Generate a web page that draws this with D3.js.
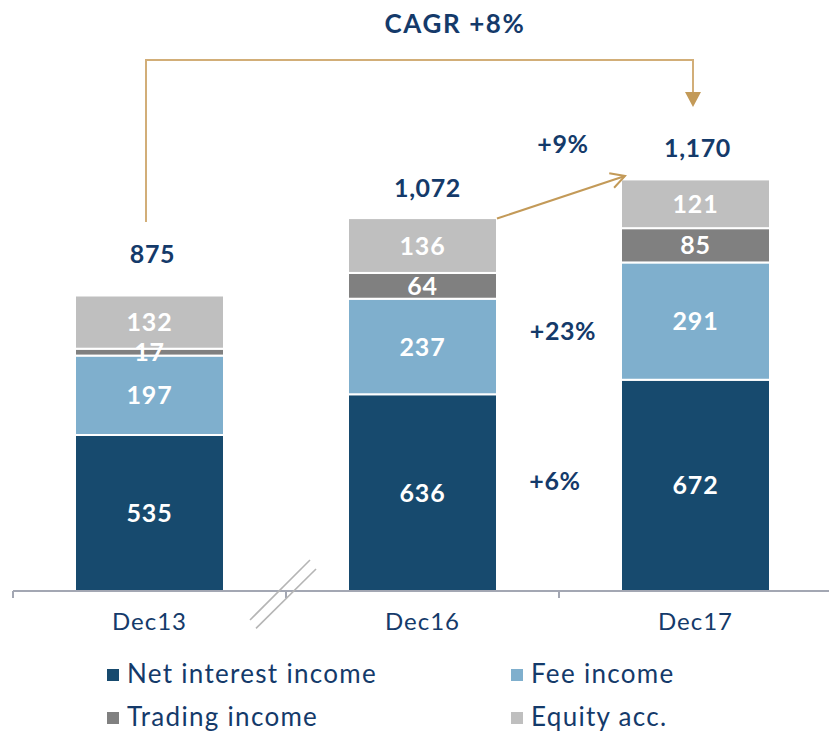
<!DOCTYPE html>
<html>
<head>
<meta charset="utf-8">
<script src="https://cdn.jsdelivr.net/npm/d3@7"></script>
<style>
  body { margin: 0; background: #fff; }
  svg { font-family: Lato, "Open Sans", sans-serif; }
</style>
</head>
<body>
<svg id="chart" width="829" height="731"></svg>
<script>
const categories = ["Dec13", "Dec16", "Dec17"];
const series = ["Net interest income", "Fee income", "Trading income", "Equity acc."];
const netInterest = [535, 636, 672];
const feeIncome = [197, 237, 291];
const tradingIncome = [17, 64, 85];
const equityAcc = [132, 136, 121];
const totals = [875, 1072, 1170];
const growthLabels = ["+9%", "+23%", "+6%"];
const cagrLabel = "CAGR +8%";

const colors = ["#174a6e", "#7fafcd", "#808080", "#bfbfbf"];
const textColor = "#143a6a";
const gold = "#c39a58";

const svg = d3.select("#chart");

const rows = categories.map((c, i) => ({
  cat: c,
  "Net interest income": netInterest[i],
  "Fee income": feeIncome[i],
  "Trading income": tradingIncome[i],
  "Equity acc.": equityAcc[i],
  total: totals[i]
}));

// Escalas (eje Y truncado, no empieza en cero)
const x = d3.scaleBand().domain(categories).range([13, 832]).padding(0);
const y = d3.scaleLinear().domain([148, 1170]).range([591, 179]);
const barW = 149;
const barX = (c) => x(c) + (x.bandwidth() - barW) / 2;

const stacked = d3.stack().keys(series)(rows);
// la primera capa arranca en la base truncada
stacked[0].forEach((d) => (d[0] = y.domain()[0]));

// Barras
const layers = svg.selectAll(".layer")
  .data(stacked)
  .enter()
  .append("g")
  .attr("class", "layer")
  .attr("fill", (d, i) => colors[i]);

layers.selectAll("rect")
  .data((d) => d)
  .enter()
  .append("rect")
  .attr("x", (d) => barX(d.data.cat))
  .attr("y", (d) => y(d[1]))
  .attr("width", barW)
  .attr("height", (d) => y(d[0]) - y(d[1]))
  .attr("stroke", "#fff")
  .attr("stroke-width", 2);

// Etiquetas dentro de los segmentos
stacked.forEach((layer) => {
  svg.append("g")
    .selectAll("text")
    .data(layer)
    .enter()
    .append("text")
    .attr("x", (d) => barX(d.data.cat) + barW / 2)
    .attr("y", (d) => (y(d[0]) + y(d[1])) / 2)
    .attr("dy", "0.36em")
    .attr("text-anchor", "middle")
    .attr("fill", "#fff")
    .attr("font-weight", "bold")
    .attr("font-size", 25)
    .attr("letter-spacing", 0.8)
    .text((d) => d.data[layer.key]);
});

// Totales
const totalGap = [35, 22, 22];
const totalShift = [3, 5, 2];
svg.append("g")
  .selectAll("text")
  .data(rows)
  .enter()
  .append("text")
  .attr("x", (d, i) => barX(d.cat) + barW / 2 + totalShift[i])
  .attr("y", (d, i) => y(d.total) - totalGap[i])
  .attr("text-anchor", "middle")
  .attr("fill", textColor)
  .attr("font-weight", "bold")
  .attr("font-size", 25)
  .attr("letter-spacing", 0.6)
  .text((d) => d3.format(",")(d.total));

// Eje X
const axisY = 591;
const axis = svg.append("g").attr("transform", `translate(0,${axisY})`);
axis.append("line")
  .attr("x1", x.range()[0]).attr("x2", x.range()[1])
  .attr("stroke", "#a3a7b3").attr("stroke-width", 2);
axis.selectAll(".tick")
  .data(categories)
  .enter()
  .append("line")
  .attr("x1", (d) => x(d)).attr("x2", (d) => x(d))
  .attr("y1", 0).attr("y2", 7)
  .attr("stroke", "#a3a7b3").attr("stroke-width", 2);
axis.selectAll(".label")
  .data(categories)
  .enter()
  .append("text")
  .attr("x", (d) => x(d) + x.bandwidth() / 2)
  .attr("y", 39)
  .attr("text-anchor", "middle")
  .attr("fill", textColor)
  .attr("font-size", 24)
  .attr("letter-spacing", 1)
  .text((d) => d);

// Marca de corte
const bx = x("Dec16") - 36;
[0, 6].forEach((o) => {
  svg.append("line")
    .attr("x1", bx + 60 + o).attr("y1", 560 + o * 1.5)
    .attr("x2", bx + o).attr("y2", 620 + o * 1.4)
    .attr("stroke", "#b5b5b5").attr("stroke-width", 1.6);
});

// Flecha CAGR
const xa = barX("Dec13") + 71;
const xb = barX("Dec17") + 72;
svg.append("path")
  .attr("d", `M${xa},${y(totals[0]) - 76}V60H${xb}V94`)
  .attr("fill", "none")
  .attr("stroke", "#d2ae78")
  .attr("stroke-width", 2);
svg.append("path")
  .attr("d", `M${xb - 8},92L${xb + 8},92L${xb},107Z`)
  .attr("fill", gold);
svg.append("text")
  .attr("x", 455).attr("y", 33)
  .attr("text-anchor", "middle")
  .attr("fill", textColor)
  .attr("font-weight", "bold")
  .attr("font-size", 26)
  .attr("letter-spacing", 1.6)
  .text(cagrLabel);

// Flecha Dec16 -> Dec17
const p0 = [barX("Dec16") + barW, y(totals[1])];
const p1 = [barX("Dec17") + 4, y(totals[2]) - 3];
svg.append("line")
  .attr("x1", p0[0]).attr("y1", p0[1])
  .attr("x2", p1[0]).attr("y2", p1[1])
  .attr("stroke", gold).attr("stroke-width", 2);
const ang = Math.atan2(p1[1] - p0[1], p1[0] - p0[0]);
const head = 16;
svg.append("path")
  .attr("d", `M${p1[0] - head * Math.cos(ang - 0.5)},${p1[1] - head * Math.sin(ang - 0.5)}L${p1[0]},${p1[1]}L${p1[0] - head * Math.cos(ang + 0.5)},${p1[1] - head * Math.sin(ang + 0.5)}`)
  .attr("fill", "none")
  .attr("stroke", gold)
  .attr("stroke-width", 2);

// Porcentajes de crecimiento
const growthY = [153, 340, 490];
const growthX = [563, 563, 555];
svg.append("g")
  .selectAll("text")
  .data(growthLabels)
  .enter()
  .append("text")
  .attr("x", (d, i) => growthX[i])
  .attr("y", (d, i) => growthY[i])
  .attr("text-anchor", "middle")
  .attr("fill", textColor)
  .attr("font-weight", "bold")
  .attr("font-size", 25)
  .attr("letter-spacing", 0.6)
  .text((d) => d);

// Leyenda
const legend = svg.append("g")
  .selectAll("g")
  .data(series)
  .enter()
  .append("g")
  .attr("transform", (d, i) => `translate(${i % 2 === 0 ? 107 : 511},${i < 2 ? 683 : 726})`);
legend.append("rect")
  .attr("x", 0).attr("y", -14)
  .attr("width", 12).attr("height", 12)
  .attr("fill", (d, i) => colors[i]);
legend.append("text")
  .attr("x", 20)
  .attr("fill", textColor)
  .attr("font-size", 26)
  .attr("letter-spacing", 1.3)
  .text((d) => d);
</script>
</body>
</html>
